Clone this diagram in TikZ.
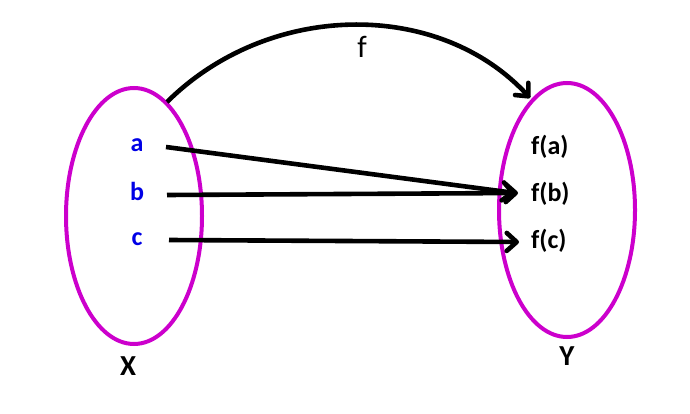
\documentclass[tikz,border=0pt]{standalone}
\usepackage{fontspec}
\setmainfont{Carlito}
\usetikzlibrary{arrows.meta}
\definecolor{setmag}{RGB}{204,0,204}
\definecolor{elemblue}{RGB}{0,0,230}
\tikzset{
  setline/.style={draw=setmag, line width=4pt},
  maparrow/.style={draw=black, line width=4.6pt, -{Straight Barb[length=10pt,width=18pt,line cap=round,line join=round]}},
  elem/.style={text=elemblue, font=\bfseries\fontsize{26}{26}\selectfont, inner sep=0pt},
  img/.style={text=black, font=\bfseries\fontsize{26}{26}\selectfont, inner sep=0pt, anchor=west},
  setname/.style={text=black, font=\bfseries\fontsize{29}{29}\selectfont, inner sep=0pt},
}
\begin{document}
\begin{tikzpicture}[x=1pt,y=-1pt]
\useasboundingbox (0,0) rectangle (690,414);
\draw[setline] (134,216) ellipse [x radius=68, y radius=128];
\draw[setline] (567,210) ellipse [x radius=68, y radius=127];
\node[elem] (a) at (137,145) {a};
\node[elem] (b) at (137,191) {b};
\node[elem] (c) at (137,239) {c};
\node[img] (fa) at (531,147) {f(a)};
\node[img] (fb) at (531,194) {f(b)};
\node[img] (fc) at (531,241) {f(c)};
\node[setname] (X) at (128,366) {X};
\node[setname] (Y) at (567,356) {Y};
\coordinate (s) at (167,102);
\coordinate (e) at (530,98);
\node[font=\fontsize{31}{31}\selectfont, inner sep=0pt] (f) at (362,47) {f};
\coordinate (as) at (166,147);
\coordinate (bs) at (167,195);
\coordinate (cs) at (169,240);
\draw[maparrow] (as) -- ([xshift=-16pt,yshift=1pt]fb.west);
\draw[maparrow] (bs) -- ([xshift=-13pt,yshift=1pt]fb.west);
\draw[maparrow] (cs) -- ([xshift=-12pt,yshift=-1pt]fc.west);
\draw[maparrow] (s) .. controls (270,0) and (440,0) .. (e);
\end{tikzpicture}
\end{document}
